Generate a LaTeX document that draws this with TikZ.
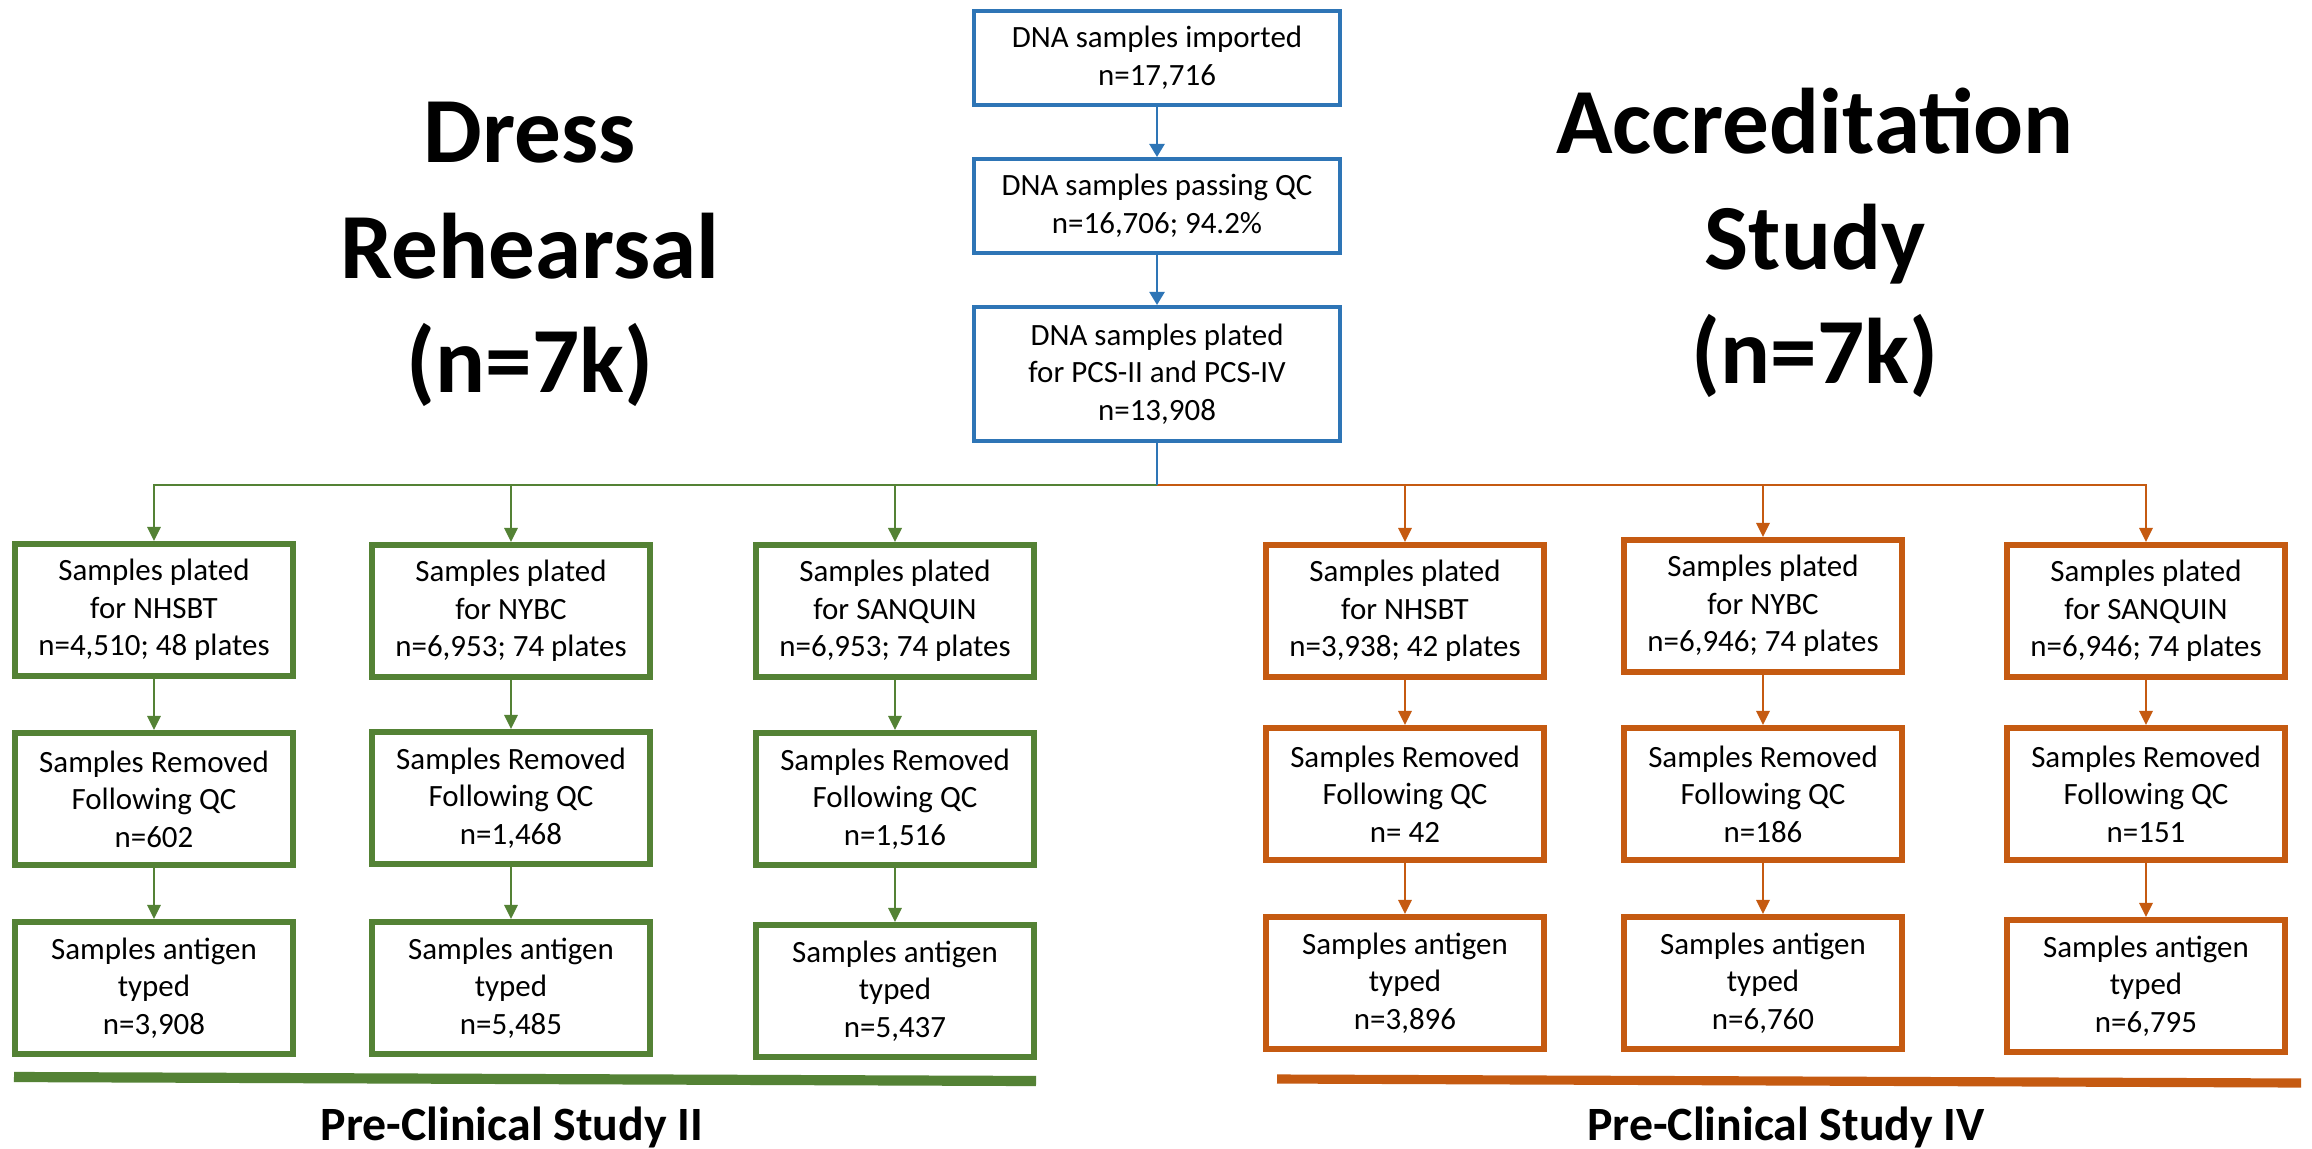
\documentclass[tikz,border=0pt]{standalone}
\usepackage{fontspec}
\setmainfont{Carlito}
\usetikzlibrary{arrows.meta}
\definecolor{cblue}{HTML}{2E75B6}
\definecolor{cgreen}{HTML}{548235}
\definecolor{corange}{HTML}{C55A11}
\begin{document}
\begin{tikzpicture}[x=0.01cm,y=-0.01cm,
  boxtext/.style={font=\fontsize{8.8pt}{10.7pt}\selectfont, align=center, inner sep=0pt, text=black},
  topbox/.style={boxtext, draw=cblue, line width=1.14pt, minimum width=3.66cm, minimum height=0.94cm},
  tallbox/.style={topbox, minimum height=1.34cm},
  gbox/.style={boxtext, draw=cgreen, line width=1.7pt, minimum width=2.78cm, minimum height=1.32cm},
  obox/.style={boxtext, draw=corange, line width=1.7pt, minimum width=2.78cm, minimum height=1.32cm},
  barrow/.style={draw=cblue, line width=0.6pt, -{Triangle[width=4.3pt,length=3.7pt]}},
  garrow/.style={draw=cgreen, line width=0.6pt, -{Triangle[width=3.8pt,length=4pt]}},
  oarrow/.style={draw=corange, line width=0.6pt, -{Triangle[width=3.8pt,length=4pt]}},
  head/.style={font=\fontsize{26.5pt}{32.7pt}\selectfont\bfseries, anchor=base, inner sep=0pt},
  foot/.style={font=\fontsize{13.6pt}{15pt}\selectfont\bfseries, anchor=base, inner sep=0pt}
]
\useasboundingbox[fill=white] (0,0) rectangle (2312,1148);

% top chain
\node[topbox] (t1) at (1157,58) {DNA samples imported\\n=17,716};
\node[topbox] (t2) at (1157,206) {DNA samples passing QC\\n=16,706; 94.2\%};
\node[tallbox] (t3) at (1157,374) {DNA samples plated\\for PCS-II and PCS-IV\\n=13,908};
\draw[barrow] (t1) -- (t2);
\draw[barrow] (t2) -- (t3);
\coordinate (j) at (1157,485);

% headings
\node[head] (hl1) at (530,162) {Dress};
\node[head] (hl2) at (530,278) {Rehearsal};
\node[head] (hl3) at (530,392) {(n=7k)};
\node[head] (hr1) at (1815,153) {Accreditation};
\node[head] (hr2) at (1815,269) {Study};
\node[head] (hr3) at (1815,383) {(n=7k)};

% green columns
\node[gbox] (g1a) at (154,610) {Samples plated\\for NHSBT\\n=4,510; 48 plates};
\node[gbox] (g1b) at (154,799) {Samples Removed\\Following QC\\n=602};
\node[gbox] (g1c) at (154,988) {Samples antigen\\typed\\n=3,908};
\node[gbox] (g2a) at (511,611) {Samples plated\\for NYBC\\n=6,953; 74 plates};
\node[gbox] (g2b) at (511,798) {Samples Removed\\Following QC\\n=1,468};
\node[gbox] (g2c) at (511,988) {Samples antigen\\typed\\n=5,485};
\node[gbox] (g3a) at (895,611) {Samples plated\\for SANQUIN\\n=6,953; 74 plates};
\node[gbox] (g3b) at (895,799) {Samples Removed\\Following QC\\n=1,516};
\node[gbox] (g3c) at (895,991) {Samples antigen\\typed\\n=5,437};

% orange columns
\node[obox] (o1a) at (1405,611) {Samples plated\\for NHSBT\\n=3,938; 42 plates};
\node[obox] (o1b) at (1405,794) {Samples Removed\\Following QC\\n= 42};
\node[obox] (o1c) at (1405,983) {Samples antigen\\typed\\n=3,896};
\node[obox] (o2a) at (1763,606) {Samples plated\\for NYBC\\n=6,946; 74 plates};
\node[obox] (o2b) at (1763,794) {Samples Removed\\Following QC\\n=186};
\node[obox] (o2c) at (1763,983) {Samples antigen\\typed\\n=6,760};
\node[obox] (o3a) at (2146,611) {Samples plated\\for SANQUIN\\n=6,946; 74 plates};
\node[obox] (o3b) at (2146,794) {Samples Removed\\Following QC\\n=151};
\node[obox] (o3c) at (2146,986) {Samples antigen\\typed\\n=6,795};

% branches
\draw[garrow] (j) -| (g1a.north);
\draw[garrow] (j) -| (g2a.north);
\draw[garrow, line width=0.8pt] (j) -| (g3a.north);
\draw[oarrow] (j) -| (o1a.north);
\draw[oarrow] (j) -| (o2a.north);
\draw[oarrow] (j) -| (o3a.north);
\draw[draw=cblue, line width=0.6pt] (t3.south) -- (j);

% column arrows
\foreach \c in {g1,g2,g3}{
  \draw[garrow] (\c a.south) -- (\c b.north);
  \draw[garrow] (\c b.south) -- (\c c.north);
}
\foreach \c in {o1,o2,o3}{
  \draw[oarrow] (\c a.south) -- (\c b.north);
  \draw[oarrow] (\c b.south) -- (\c c.north);
}

% study bars
\coordinate (gbl) at (14,1077);
\coordinate (gbr) at (1036,1081);
\coordinate (obl) at (1277,1079);
\coordinate (obr) at (2301,1083);
\draw[cgreen, line width=2.9pt] (gbl) -- (gbr);
\draw[corange, line width=2.6pt] (obl) -- (obr);

\node[foot] (fl) at (512,1140) {Pre-Clinical Study II};
\node[foot] (fr) at (1786,1140) {Pre-Clinical Study IV};
\end{tikzpicture}
\end{document}
